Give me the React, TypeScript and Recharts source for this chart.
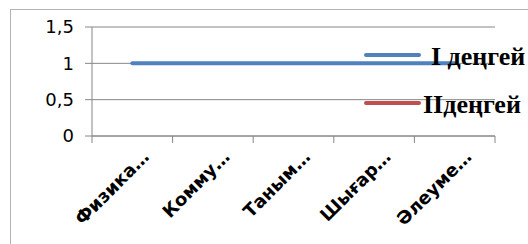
import { LineChart, Line, XAxis, YAxis, CartesianGrid } from 'recharts';

const categories = ['Физика…', 'Комму…', 'Таным…', 'Шығар…', 'Әлеуме…'];
const level1 = [1, 1, 1, 1, 1];
const level2: (number | null)[] = [null, null, null, null, null];
const yTicks = [0, 0.5, 1, 1.5];
const seriesNames = ['I деңгей', 'IIдеңгей'];

const W = 528;
const H = 244;
const PLOT_LEFT = 92;
const PLOT_RIGHT = 495;
const PLOT_TOP = 27;
const PLOT_BOTTOM = 136;
const HALF_BAND = (PLOT_RIGHT - PLOT_LEFT) / categories.length / 2;

const data = categories.map((name, i) => ({ name, l1: level1[i], l2: level2[i] }));

const XTick = (props: any) => {
  const { x, y, payload, index } = props;
  const last = index === categories.length - 1;
  return (
    <g>
      <line x1={x - HALF_BAND} y1={y} x2={x - HALF_BAND} y2={y + 7} stroke="#868686" />
      {last && <line x1={x + HALF_BAND} y1={y} x2={x + HALF_BAND} y2={y + 7} stroke="#868686" />}
      <text
        transform={`translate(${x + 18},${y + 22}) rotate(-45)`}
        textAnchor="end"
        fontFamily="DejaVu Sans"
        fontWeight="bold"
        fontSize={18}
        fill="#000"
      >
        {payload.value}
      </text>
    </g>
  );
};

// legend sits over the right of the plot, like in the original
const LegendBox = () => (
  <svg width={W} height={H} style={{ position: 'absolute', left: 0, top: 0, pointerEvents: 'none' }}>
    <line x1={366} y1={55} x2={419} y2={55} stroke="#4f81bd" strokeWidth={4} strokeLinecap="round" />
    <text x={431} y={65} fontFamily="Liberation Serif" fontWeight="bold" fontSize={26} fill="#000">
      {seriesNames[0]}
    </text>
    <line x1={366} y1={103} x2={419} y2={103} stroke="#c0504d" strokeWidth={4} strokeLinecap="round" />
    <text x={423} y={113} fontFamily="Liberation Serif" fontWeight="bold" fontSize={26} fill="#000">
      {seriesNames[1]}
    </text>
  </svg>
);

export default function App() {
  return (
    <div style={{ position: 'absolute', left: 0, top: 0, width: W, height: H, overflow: 'hidden', background: '#fff' }}>
      <div
        style={{
          position: 'absolute',
          left: 10,
          top: 9,
          width: 600,
          height: 300,
          border: '1px solid #b3b3b3',
        }}
      />
      <div style={{ position: 'absolute', left: 0, top: 0 }}>
        <LineChart
          width={W}
          height={H}
          data={data}
          margin={{ top: PLOT_TOP, right: W - PLOT_RIGHT, bottom: 0, left: 0 }}
        >
          <CartesianGrid vertical={false} stroke="#868686" strokeWidth={1} />
          <XAxis
            dataKey="name"
            height={H - PLOT_BOTTOM}
            padding={{ left: HALF_BAND, right: HALF_BAND }}
            axisLine={{ stroke: '#868686' }}
            tickLine={false}
            tickSize={0}
            tickMargin={0}
            interval={0}
            tick={<XTick />}
          />
          <YAxis
            width={PLOT_LEFT}
            domain={[0, 1.5]}
            ticks={yTicks}
            axisLine={{ stroke: '#868686' }}
            tickLine={{ stroke: '#868686' }}
            tickSize={7}
            tickMargin={11}
            tickFormatter={(v: number) => String(v).replace('.', ',')}
            tick={{ fontFamily: 'DejaVu Sans', fontSize: 18, fill: '#000' }}
          />
          <Line
            dataKey="l1"
            name={seriesNames[0]}
            stroke="#4f81bd"
            strokeWidth={4}
            strokeLinecap="round"
            dot={false}
            isAnimationActive={false}
          />
          <Line
            dataKey="l2"
            name={seriesNames[1]}
            stroke="#c0504d"
            strokeWidth={4}
            dot={false}
            isAnimationActive={false}
          />
        </LineChart>
      </div>
      <LegendBox />
    </div>
  );
}
